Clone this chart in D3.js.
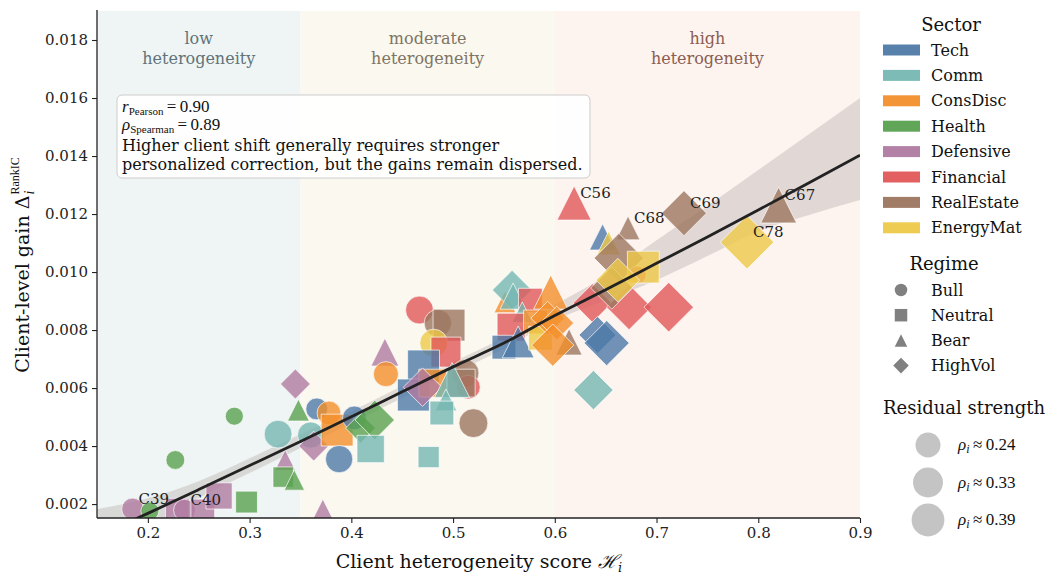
<!DOCTYPE html>
<html><head><meta charset="utf-8">
<script src="https://cdn.jsdelivr.net/npm/d3@7"></script>
<style>body{margin:0;background:#fff}svg{display:block}</style>
</head><body>
<svg id="chart" width="1055" height="580"></svg>
<script>
// ---------------- data ----------------
const hetero = [0.185,0.202,0.229,0.236,0.254,0.270,0.297,0.285,0.227,0.328,0.360,0.335,0.333,0.344,0.345,0.348,0.363,0.366,0.378,0.386,0.388,0.403,0.409,0.423,0.419,0.433,0.434,0.476,0.520,0.467,0.485,0.496,0.481,0.493,0.471,0.461,0.480,0.470,0.512,0.515,0.508,0.499,0.493,0.489,0.551,0.558,0.559,0.576,0.568,0.557,0.550,0.564,0.596,0.581,0.586,0.593,0.602,0.614,0.598,0.619,0.637,0.673,0.712,0.642,0.651,0.638,0.647,0.653,0.672,0.663,0.681,0.687,0.656,0.662,0.727,0.820,0.789,0.372];
const gain = [0.00183,0.00176,0.00179,0.00179,0.00176,0.00228,0.00207,0.00503,0.00352,0.00441,0.00438,0.00352,0.00293,0.00283,0.00614,0.00524,0.00400,0.00528,0.00514,0.00455,0.00355,0.00497,0.00462,0.00490,0.00390,0.00724,0.00648,0.00362,0.00479,0.00869,0.00824,0.00817,0.00755,0.00724,0.00676,0.00576,0.00617,0.00603,0.00652,0.00603,0.00617,0.00628,0.00559,0.00514,0.00897,0.00938,0.00917,0.00903,0.00862,0.00810,0.00741,0.00759,0.00931,0.00828,0.00772,0.00841,0.00824,0.00759,0.00748,0.01238,0.00893,0.00879,0.00879,0.00783,0.00755,0.00593,0.01121,0.01100,0.01152,0.01048,0.00990,0.01017,0.00945,0.00972,0.01203,0.01231,0.01103,0.00172];
const sector = ["Defensive","Health","Defensive","Defensive","Defensive","Defensive","Health","Health","Health","Comm","Comm","Defensive","Health","Health","Defensive","Health","Defensive","Tech","ConsDisc","ConsDisc","Tech","Tech","Health","Health","Comm","Defensive","ConsDisc","Comm","RealEstate","Financial","RealEstate","RealEstate","EnergyMat","Financial","Tech","Tech","ConsDisc","Defensive","RealEstate","Financial","RealEstate","Comm","Comm","Comm","ConsDisc","Comm","Comm","Financial","Comm","Financial","Tech","Tech","ConsDisc","ConsDisc","EnergyMat","ConsDisc","ConsDisc","RealEstate","ConsDisc","Financial","Financial","Financial","Financial","Tech","Tech","Comm","Tech","EnergyMat","RealEstate","RealEstate","Financial","EnergyMat","RealEstate","EnergyMat","RealEstate","RealEstate","EnergyMat","Defensive"];
const regime = ["Bull","Bull","Neutral","Bull","Neutral","Neutral","Neutral","Bull","Bull","Bull","Bull","Bear","Neutral","Bear","HighVol","Bear","HighVol","Bull","Bull","Neutral","Bull","Bull","HighVol","HighVol","Neutral","Bear","Bull","Neutral","Bull","Bull","Bull","Neutral","Bull","Neutral","Neutral","Neutral","Neutral","HighVol","Bull","Bull","Neutral","Bear","Bear","Neutral","Bear","HighVol","Bear","Neutral","Bear","Neutral","Neutral","Bear","Bear","Neutral","Neutral","HighVol","HighVol","Bear","HighVol","Bear","HighVol","HighVol","HighVol","HighVol","HighVol","HighVol","Bear","Bear","Bear","HighVol","Bull","Neutral","HighVol","HighVol","HighVol","Bear","HighVol","Bear"];
const rho = [0.19,0.14,0.22,0.19,0.22,0.26,0.19,0.14,0.15,0.29,0.26,0.17,0.17,0.17,0.18,0.19,0.18,0.19,0.22,0.37,0.28,0.22,0.18,0.29,0.28,0.29,0.24,0.18,0.31,0.29,0.28,0.37,0.29,0.33,0.37,0.37,0.29,0.28,0.28,0.22,0.29,0.44,0.19,0.22,0.19,0.29,0.26,0.22,0.17,0.29,0.22,0.37,0.42,0.22,0.22,0.22,0.22,0.26,0.33,0.42,0.28,0.37,0.44,0.26,0.37,0.29,0.26,0.22,0.22,0.44,0.14,0.37,0.33,0.35,0.37,0.46,0.51,0.26];
const clientLabel = ["C39","","","C40","","","","","","","","","","","","","","","","","","","","","","","","","","","","","","","","","","","","","","","","","","","","","","","","","","","","","","","","C56","","","","","","","","","C68","","","","","","C69","C67","C78",""];

const sectors = ["Tech","Comm","ConsDisc","Health","Defensive","Financial","RealEstate","EnergyMat"];
const sectorColors = ["#4e79a7","#76b7b2","#f28e2b","#59a14f","#b07aa1","#e15759","#9c755f","#edc948"];
const regimes = ["Bull","Neutral","Bear","HighVol"];
const rhoLegend = [0.24,0.33,0.39];

const zoneBounds = [0.15,0.35,0.60,0.90];
const zoneNames = [["low","heterogeneity"],["moderate","heterogeneity"],["high","heterogeneity"]];
const zoneFill = ["#eff5f4","#fbf8f0","#fdf4f0"];
const zoneText = ["#5f737b","#807462","#8c5d52"];

const xTicks = [0.2,0.3,0.4,0.5,0.6,0.7,0.8,0.9];
const yTicks = [0.002,0.004,0.006,0.008,0.010,0.012,0.014,0.016,0.018];

// fitted trend and its band
const trendX = [0.15,0.20,0.25,0.30,0.35,0.40,0.45,0.50,0.55,0.60,0.65,0.70,0.75,0.80,0.85,0.90];
const trendY = [0.00088,0.00168,0.00250,0.00333,0.00416,0.00501,0.00587,0.00673,0.00755,0.00850,0.00939,0.01030,0.01121,0.01214,0.01308,0.01403];
const bandHi = [0.00183,0.00220,0.00279,0.00358,0.00441,0.00520,0.00607,0.00690,0.00776,0.00886,0.00986,0.01110,0.01228,0.01352,0.01476,0.01600];
const bandLo = [-0.0001,0.00110,0.00221,0.00307,0.00393,0.00479,0.00566,0.00652,0.00735,0.00834,0.00903,0.00972,0.01055,0.01141,0.01197,0.01248];

const statLines = [["r","Pearson","0.90"],["\u03C1","Spearman","0.89"]];
const noteLines = ["Higher client shift generally requires stronger","personalized correction, but the gains remain dispersed."];

// ---------------- layout ----------------
const svg = d3.select("#chart");
const M = {l:97, r:860, t:11, b:518};
const x = d3.scaleLinear().domain([0.15,0.90]).range([M.l,M.r]);
const y = d3.scaleLinear().domain([0.00152,0.019]).range([M.b,M.t]);
const color = d3.scaleOrdinal().domain(sectors).range(sectorColors);
const areaScale = d3.scaleLinear().domain([0.24,0.39]).range([625,1075]);
const msize = r => Math.sqrt(Math.max(areaScale(r),60));
const SERIF = "'DejaVu Serif', serif";
const MATH = "'Liberation Serif', 'DejaVu Serif', serif";

function shapePath(reg, d){
  const p = d3.path(), h = d/2;
  if (reg==="Bull"){ p.arc(0,0,h,0,2*Math.PI); }
  else if (reg==="Neutral"){ p.rect(-h,-h,d,d); }
  else if (reg==="Bear"){ p.moveTo(0,-h); p.lineTo(h,h); p.lineTo(-h,h); p.closePath(); }
  else { const q = d/Math.SQRT2; p.moveTo(0,-q); p.lineTo(q,0); p.lineTo(0,q); p.lineTo(-q,0); p.closePath(); }
  return p.toString();
}

svg.append("defs").append("clipPath").attr("id","plotclip")
  .append("rect").attr("x",M.l).attr("y",M.t).attr("width",M.r-M.l).attr("height",M.b-M.t);

// zones
const zones = svg.append("g");
zoneNames.forEach((nm,i)=>{
  zones.append("rect").attr("x",x(zoneBounds[i])).attr("y",M.t)
    .attr("width",x(zoneBounds[i+1])-x(zoneBounds[i])).attr("height",M.b-M.t)
    .attr("fill",zoneFill[i]);
  const cx = (x(zoneBounds[i])+x(zoneBounds[i+1]))/2;
  nm.forEach((t,j)=>{
    zones.append("text").attr("x",cx).attr("y",44+j*20).attr("text-anchor","middle")
      .attr("font-family",SERIF).attr("font-size",16).attr("fill",zoneText[i]).text(t);
  });
});

// band + trend
const plotG = svg.append("g").attr("clip-path","url(#plotclip)");
const idx = d3.range(trendX.length);
plotG.append("path").datum(idx)
  .attr("d", d3.area().x(i=>x(trendX[i])).y0(i=>y(bandLo[i])).y1(i=>y(bandHi[i])).curve(d3.curveMonotoneX))
  .attr("fill","#a9a29d").attr("fill-opacity",0.33);

// points
const pts = d3.range(hetero.length);
plotG.append("g").selectAll("path").data(pts).join("path")
  .attr("transform",i=>`translate(${x(hetero[i])},${y(gain[i])})`)
  .attr("d",i=>shapePath(regime[i], msize(rho[i])))
  .attr("fill",i=>color(sector[i])).attr("fill-opacity",0.8)
  .attr("stroke","#ffffff").attr("stroke-opacity",0.75).attr("stroke-width",0.9);

plotG.append("path").datum(idx)
  .attr("d", d3.line().x(i=>x(trendX[i])).y(i=>y(trendY[i])).curve(d3.curveMonotoneX))
  .attr("fill","none").attr("stroke","#222").attr("stroke-width",2.8);

// client labels
svg.append("g").selectAll("text").data(pts.filter(i=>clientLabel[i])).join("text")
  .attr("x",i=>x(hetero[i])+6).attr("y",i=>y(gain[i])-5)
  .attr("font-family",SERIF).attr("font-size",15).attr("fill","#222").text(i=>clientLabel[i]);

// axes
const xAxis = svg.append("g").attr("transform",`translate(0,${M.b})`)
  .call(d3.axisBottom(x).tickValues(xTicks).tickFormat(d3.format(".1f")).tickSize(5).tickPadding(4));
const yAxis = svg.append("g").attr("transform",`translate(${M.l},0)`)
  .call(d3.axisLeft(y).tickValues(yTicks).tickFormat(d3.format(".3f")).tickSize(5).tickPadding(4));
[xAxis,yAxis].forEach(a=>{
  a.attr("font-family",SERIF);
  a.selectAll("text").attr("font-family",SERIF).attr("font-size",15).attr("fill","#222");
  a.selectAll("line").attr("stroke","#222").attr("stroke-width",1.1);
  a.select(".domain").attr("stroke","#222").attr("stroke-width",1.3);
});
xAxis.select(".domain").attr("d",`M${M.l},0H${M.r}`);
yAxis.select(".domain").attr("d",`M0,${M.b}V${M.t-1}`);

// x label
const xl = svg.append("text").attr("x",479).attr("y",568).attr("text-anchor","middle")
  .attr("font-family",SERIF).attr("font-size",19).attr("fill","#111");
xl.append("tspan").text("Client heterogeneity score ");
xl.append("tspan").attr("font-style","italic").text("\u210B");
xl.append("tspan").attr("font-style","italic").attr("font-size",13).attr("dy",4).text("i");

// y label
const yl = svg.append("g").attr("transform","translate(29,265) rotate(-90)");
const yt = yl.append("text").attr("font-family",SERIF).attr("font-size",19).attr("fill","#111").text("Client-level gain \u0394");
const w1 = yt.node().getComputedTextLength();
const ysup = yl.append("text").attr("font-family",MATH).attr("font-size",12).attr("fill","#111").attr("y",-10).text("RankIC");
const w2 = ysup.node().getComputedTextLength();
const ysub = yl.append("text").attr("font-family",MATH).attr("font-style","italic").attr("font-size",14).attr("fill","#111").attr("y",5).text("i");
const x0 = -(w1+w2+1)/2;
yt.attr("x",x0); ysup.attr("x",x0+w1+1); ysub.attr("x",x0+w1+1);

// annotation box
const ann = svg.append("g");
ann.append("rect").attr("x",117).attr("y",95).attr("width",473).attr("height",83).attr("rx",5)
  .attr("fill","#fff").attr("fill-opacity",0.9).attr("stroke","#cccccc").attr("stroke-width",1);
statLines.forEach((s,i)=>{
  const t = ann.append("text").attr("x",122).attr("y",112+i*18).attr("font-family",MATH).attr("font-size",17).attr("fill","#111");
  t.append("tspan").attr("font-style","italic").text(s[0]);
  t.append("tspan").attr("font-size",11).attr("dy",3).text(s[1]);
  t.append("tspan").attr("dy",-3).text("\u2009=\u20090."+s[2].slice(2));
});
noteLines.forEach((s,i)=>{
  ann.append("text").attr("x",122).attr("y",151+i*19).attr("font-family",SERIF).attr("font-size",16).attr("fill","#111").text(s);
});

// legends
const lg = svg.append("g");
lg.append("text").attr("x",951).attr("y",31).attr("text-anchor","middle").attr("font-family",SERIF).attr("font-size",18).attr("fill","#111").text("Sector");
sectors.forEach((s,i)=>{
  const yy = 50 + i*25.4;
  lg.append("rect").attr("x",883).attr("y",yy-5.5).attr("width",37).attr("height",11).attr("fill",sectorColors[i]).attr("fill-opacity",0.95);
  lg.append("text").attr("x",931).attr("y",yy+5.5).attr("font-family",SERIF).attr("font-size",16).attr("fill","#111").text(s);
});
lg.append("text").attr("x",944).attr("y",270).attr("text-anchor","middle").attr("font-family",SERIF).attr("font-size",18).attr("fill","#111").text("Regime");
regimes.forEach((r,i)=>{
  const yy = 290 + i*25.2;
  lg.append("path").attr("transform",`translate(901,${yy})`).attr("d",shapePath(r, r==="HighVol"?11:12.5)).attr("fill","#808080");
  lg.append("text").attr("x",931).attr("y",yy+5.5).attr("font-family",SERIF).attr("font-size",16).attr("fill","#111").text(r);
});
lg.append("text").attr("x",883).attr("y",414).attr("font-family",SERIF).attr("font-size",18).attr("fill","#111").text("Residual strength");
rhoLegend.forEach((r,i)=>{
  const yy = 445 + i*37.5;
  lg.append("circle").attr("cx",928).attr("cy",yy).attr("r",msize(r)/2).attr("fill","#c4c4c4");
  const t = lg.append("text").attr("x",958).attr("y",yy+5).attr("font-family",MATH).attr("font-size",17).attr("fill","#111");
  t.append("tspan").attr("font-style","italic").text("\u03C1");
  t.append("tspan").attr("font-style","italic").attr("font-size",12).attr("dy",3).text("i");
  t.append("tspan").attr("dy",-3).text("\u2009\u2248\u2009"+r.toFixed(2));
});
</script>
</body></html>
